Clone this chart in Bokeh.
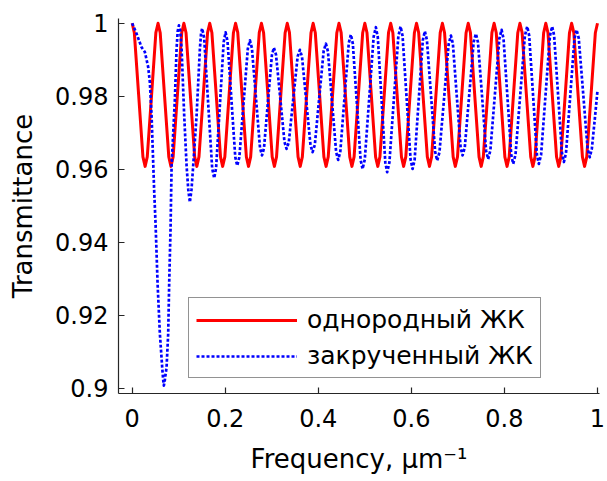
from bokeh.plotting import figure
from bokeh.models import FixedTicker, Legend, LegendItem, Range1d
from bokeh.embed import file_html
from bokeh.resources import INLINE

# ---------------- data ----------------
series_names = ["однородный ЖК", "закрученный ЖК"]

# homogeneous LC (red, solid)
red_x = [
    0.0000, 0.0046, 0.0139, 0.0231, 0.0278, 0.0324, 0.0417, 0.0509,
    0.0556, 0.0602, 0.0694, 0.0787, 0.0833, 0.0880, 0.0972, 0.1065,
    0.1111, 0.1157, 0.1250, 0.1343, 0.1389, 0.1435, 0.1528, 0.1620,
    0.1667, 0.1713, 0.1806, 0.1898, 0.1944, 0.1991, 0.2083, 0.2176,
    0.2222, 0.2269, 0.2361, 0.2454, 0.2500, 0.2546, 0.2639, 0.2731,
    0.2778, 0.2824, 0.2917, 0.3009, 0.3056, 0.3102, 0.3194, 0.3287,
    0.3333, 0.3380, 0.3472, 0.3565, 0.3611, 0.3657, 0.3750, 0.3843,
    0.3889, 0.3935, 0.4028, 0.4120, 0.4167, 0.4213, 0.4306, 0.4398,
    0.4444, 0.4491, 0.4583, 0.4676, 0.4722, 0.4769, 0.4861, 0.4954,
    0.5000, 0.5046, 0.5139, 0.5231, 0.5278, 0.5324, 0.5417, 0.5509,
    0.5556, 0.5602, 0.5694, 0.5787, 0.5833, 0.5880, 0.5972, 0.6065,
    0.6111, 0.6157, 0.6250, 0.6343, 0.6389, 0.6435, 0.6528, 0.6620,
    0.6667, 0.6713, 0.6806, 0.6898, 0.6944, 0.6991, 0.7083, 0.7176,
    0.7222, 0.7269, 0.7361, 0.7454, 0.7500, 0.7546, 0.7639, 0.7731,
    0.7778, 0.7824, 0.7917, 0.8009, 0.8056, 0.8102, 0.8194, 0.8287,
    0.8333, 0.8380, 0.8472, 0.8565, 0.8611, 0.8657, 0.8750, 0.8843,
    0.8889, 0.8935, 0.9028, 0.9120, 0.9167, 0.9213, 0.9306, 0.9398,
    0.9444, 0.9491, 0.9583, 0.9676, 0.9722, 0.9769, 0.9861, 0.9954,
    1.0000,
]
red_y = [
    1.0000, 0.9974, 0.9804, 0.9634, 0.9608, 0.9634, 0.9804, 0.9974,
    1.0000, 0.9974, 0.9804, 0.9634, 0.9608, 0.9634, 0.9804, 0.9974,
    1.0000, 0.9974, 0.9804, 0.9634, 0.9608, 0.9634, 0.9804, 0.9974,
    1.0000, 0.9974, 0.9804, 0.9634, 0.9608, 0.9634, 0.9804, 0.9974,
    1.0000, 0.9974, 0.9804, 0.9634, 0.9608, 0.9634, 0.9804, 0.9974,
    1.0000, 0.9974, 0.9804, 0.9634, 0.9608, 0.9634, 0.9804, 0.9974,
    1.0000, 0.9974, 0.9804, 0.9634, 0.9608, 0.9634, 0.9804, 0.9974,
    1.0000, 0.9974, 0.9804, 0.9634, 0.9608, 0.9634, 0.9804, 0.9974,
    1.0000, 0.9974, 0.9804, 0.9634, 0.9608, 0.9634, 0.9804, 0.9974,
    1.0000, 0.9974, 0.9804, 0.9634, 0.9608, 0.9634, 0.9804, 0.9974,
    1.0000, 0.9974, 0.9804, 0.9634, 0.9608, 0.9634, 0.9804, 0.9974,
    1.0000, 0.9974, 0.9804, 0.9634, 0.9608, 0.9634, 0.9804, 0.9974,
    1.0000, 0.9974, 0.9804, 0.9634, 0.9608, 0.9634, 0.9804, 0.9974,
    1.0000, 0.9974, 0.9804, 0.9634, 0.9608, 0.9634, 0.9804, 0.9974,
    1.0000, 0.9974, 0.9804, 0.9634, 0.9608, 0.9634, 0.9804, 0.9974,
    1.0000, 0.9974, 0.9804, 0.9634, 0.9608, 0.9634, 0.9804, 0.9974,
    1.0000, 0.9974, 0.9804, 0.9634, 0.9608, 0.9634, 0.9804, 0.9974,
    1.0000, 0.9974, 0.9804, 0.9634, 0.9608, 0.9634, 0.9804, 0.9974,
    1.0000,
]

# twisted LC (blue, dotted)
blue_x = [
    0.0000, 0.0095, 0.0202, 0.0273, 0.0344, 0.0380, 0.0417, 0.0473, 0.0503, 0.0546,
    0.0595, 0.0645, 0.0665, 0.0681, 0.0700, 0.0739, 0.0774, 0.0795, 0.0825, 0.0847,
    0.0918, 0.0954, 0.0978, 0.1004, 0.1033, 0.1062, 0.1118, 0.1169, 0.1205, 0.1240,
    0.1275, 0.1311, 0.1384, 0.1455, 0.1480, 0.1504,
    0.1547, 0.1633, 0.1719, 0.1762,
    0.1803, 0.1885, 0.1966, 0.2007,
    0.2049, 0.2132, 0.2215, 0.2257,
    0.2303, 0.2394, 0.2485, 0.2530,
    0.2573, 0.2660, 0.2747, 0.2790,
    0.2833, 0.2918, 0.3003, 0.3045,
    0.3091, 0.3182, 0.3273, 0.3318,
    0.3366, 0.3461, 0.3556, 0.3604,
    0.3650, 0.3741, 0.3832, 0.3877,
    0.3925, 0.4020, 0.4115, 0.4163,
    0.4207, 0.4295, 0.4383, 0.4427,
    0.4473, 0.4564, 0.4655, 0.4700,
    0.4742, 0.4826, 0.4909, 0.4951,
    0.4999, 0.5094, 0.5189, 0.5237,
    0.5278, 0.5359, 0.5440, 0.5480,
    0.5528, 0.5624, 0.5720, 0.5768,
    0.5811, 0.5897, 0.5983, 0.6026,
    0.6070, 0.6158, 0.6246, 0.6290,
    0.6334, 0.6423, 0.6511, 0.6555,
    0.6604, 0.6703, 0.6801, 0.6850,
    0.6892, 0.6975, 0.7058, 0.7100,
    0.7148, 0.7244, 0.7339, 0.7387,
    0.7431, 0.7519, 0.7606, 0.7650,
    0.7698, 0.7795, 0.7891, 0.7939,
    0.7981, 0.8064, 0.8146, 0.8188,
    0.8238, 0.8339, 0.8440, 0.8490,
    0.8532, 0.8615, 0.8698, 0.8740,
    0.8788, 0.8883, 0.8978, 0.9026,
    0.9068, 0.9152, 0.9236, 0.9278,
    0.9323, 0.9414, 0.9505, 0.9550,
    0.9597, 0.9692, 0.9787, 0.9834,
    0.9879, 0.9940, 1.0000,
]
blue_y = [
    1.0000, 0.9971, 0.9934, 0.9921, 0.9880, 0.9838, 0.9747, 0.9540, 0.9450, 0.9287,
    0.9150, 0.9058, 0.9025, 0.9008, 0.9022, 0.9058, 0.9150, 0.9287, 0.9440, 0.9610,
    0.9793, 0.9930, 0.9978, 0.9994, 0.9978, 0.9930, 0.9747, 0.9610, 0.9545, 0.9510,
    0.9545, 0.9610, 0.9747, 0.9930, 0.9972, 0.9986,
    0.9959, 0.9781, 0.9603, 0.9576,
    0.9603, 0.9776, 0.9948, 0.9975,
    0.9951, 0.9793, 0.9634, 0.9610,
    0.9633, 0.9782, 0.9930, 0.9953,
    0.9932, 0.9796, 0.9659, 0.9638,
    0.9658, 0.9786, 0.9913, 0.9933,
    0.9914, 0.9795, 0.9675, 0.9656,
    0.9674, 0.9792, 0.9909, 0.9927,
    0.9908, 0.9787, 0.9666, 0.9647,
    0.9667, 0.9796, 0.9924, 0.9944,
    0.9923, 0.9785, 0.9647, 0.9626,
    0.9649, 0.9798, 0.9946, 0.9969,
    0.9944, 0.9785, 0.9626, 0.9601,
    0.9627, 0.9795, 0.9963, 0.9989,
    0.9962, 0.9791, 0.9619, 0.9592,
    0.9619, 0.9792, 0.9964, 0.9991,
    0.9965, 0.9796, 0.9627, 0.9601,
    0.9626, 0.9790, 0.9953, 0.9978,
    0.9954, 0.9801, 0.9648, 0.9624,
    0.9647, 0.9795, 0.9943, 0.9966,
    0.9944, 0.9802, 0.9660, 0.9638,
    0.9660, 0.9805, 0.9949, 0.9971,
    0.9948, 0.9800, 0.9651, 0.9628,
    0.9652, 0.9805, 0.9958, 0.9982,
    0.9957, 0.9799, 0.9640, 0.9615,
    0.9640, 0.9803, 0.9966, 0.9991,
    0.9966, 0.9803, 0.9640, 0.9615,
    0.9640, 0.9803, 0.9966, 0.9991,
    0.9966, 0.9806, 0.9645, 0.9620,
    0.9644, 0.9801, 0.9958, 0.9982,
    0.9959, 0.9808, 0.9656, 0.9633,
    0.9657, 0.9735, 0.9816,
]

x_ticks = [0, 0.2, 0.4, 0.6, 0.8, 1.0]
x_tick_labels = ["0", "0.2", "0.4", "0.6", "0.8", "1"]
y_ticks = [0.9, 0.92, 0.94, 0.96, 0.98, 1.0]
y_tick_labels = ["0.9", "0.92", "0.94", "0.96", "0.98", "1"]

x_title = "Frequency, \u03bcm\u207b\u00b9"
y_title = "Transmittance"

# ---------------- figure ----------------
FONT = "DejaVu Sans"
AX = "#262626"

p = figure(width=607, height=481, output_backend="svg", toolbar_location=None,
           x_range=Range1d(-0.0294, 1.0043), y_range=Range1d(0.89863, 1.00129),
           min_border_left=118, min_border_right=8, min_border_top=18,
           min_border_bottom=88)
p.grid.visible = False
p.outline_line_color = None
p.background_fill_color = "white"
p.border_fill_color = "white"

r_red = p.line(red_x, red_y, line_color="#ff0000", line_width=3.0,
               line_join="round")
r_blue = p.line(blue_x, blue_y, line_color="#0000ff", line_width=2.7,
                line_dash="3 2", line_join="round")

for ax in (p.xaxis[0], p.yaxis[0]):
    ax.axis_line_color = AX
    ax.axis_line_width = 1.2
    ax.major_tick_line_color = AX
    ax.major_tick_line_width = 1.2
    ax.major_tick_in = 6
    ax.major_tick_out = 0
    ax.minor_tick_line_color = None
    ax.major_label_text_font = FONT
    ax.major_label_text_font_size = "24px"
    ax.major_label_text_color = "black"
    ax.axis_label_text_font = FONT
    ax.axis_label_text_font_size = "26px"
    ax.axis_label_text_font_style = "normal"
    ax.axis_label_text_color = "black"

p.xaxis.ticker = FixedTicker(ticks=x_ticks)
p.xaxis.major_label_overrides = dict(zip(x_ticks, x_tick_labels))
p.yaxis.ticker = FixedTicker(ticks=y_ticks)
p.yaxis.major_label_overrides = dict(zip(y_ticks, y_tick_labels))
p.xaxis.axis_label = x_title
p.yaxis.axis_label = y_title
p.xaxis.major_label_standoff = 15
p.xaxis.axis_label_standoff = 14
p.yaxis.major_label_standoff = 10
p.yaxis.axis_label_standoff = 14

legend = Legend(items=[LegendItem(label=series_names[0], renderers=[r_red]),
                       LegendItem(label=series_names[1], renderers=[r_blue])],
                location=(70, 15))
legend.label_text_font = FONT
legend.label_text_font_size = "25px"
legend.label_text_color = "black"
legend.glyph_width = 101
legend.glyph_height = 20
legend.padding = 7
legend.spacing = 7
legend.label_standoff = 10
legend.margin = 0
legend.border_line_color = AX
legend.border_line_width = 1.2
legend.background_fill_color = "white"
legend.background_fill_alpha = 1.0
p.add_layout(legend)

open("out.html", "w").write(file_html(p, INLINE))
